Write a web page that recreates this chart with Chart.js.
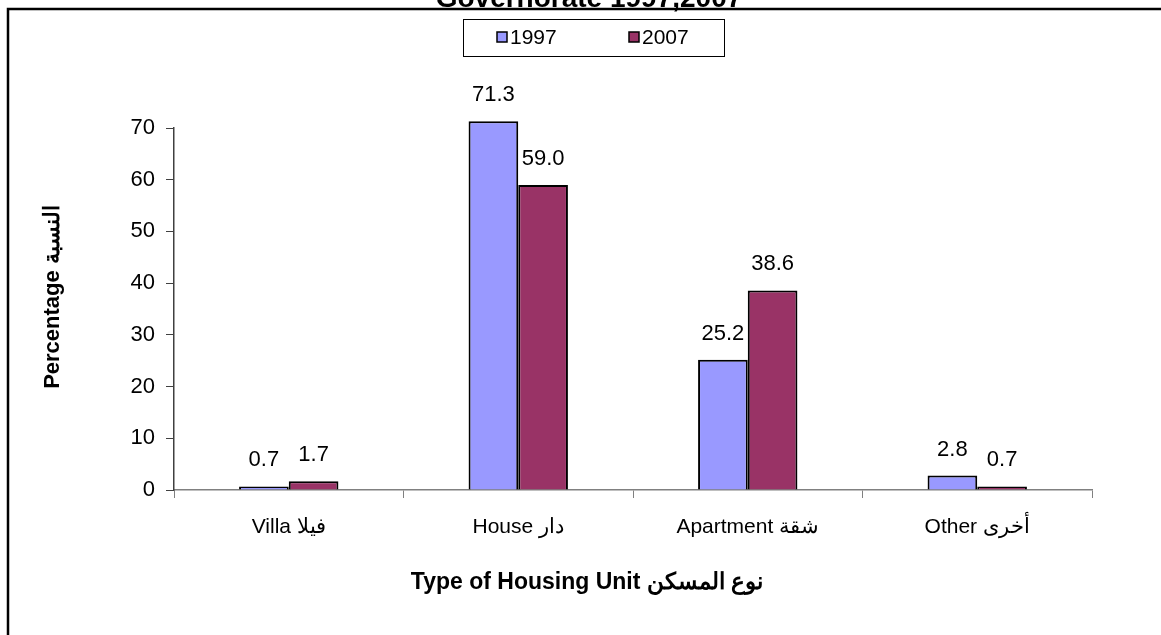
<!DOCTYPE html>
<html>
<head>
<meta charset="utf-8">
<script src="https://cdn.jsdelivr.net/npm/chart.js@4.4.1/dist/chart.umd.min.js"></script>
<style>
  html, body { margin: 0; padding: 0; background: #fff; }
  #wrap { position: relative; width: 1161px; height: 635px; overflow: hidden; }
</style>
</head>
<body>
<div id="wrap"><canvas id="c" width="1161" height="635"></canvas></div>
<script>
// ---- data ----
const categories = ['Villa فيلا', 'House دار', 'Apartment شقة', 'Other أخرى'];
const seriesNames = ['1997', '2007'];
const values1997 = [0.7, 71.3, 25.2, 2.8];
const values2007 = [1.7, 59.0, 38.6, 0.7];
const yTicks = [0, 10, 20, 30, 40, 50, 60, 70];
const titleText = 'Governorate 1997,2007';
const xTitle = 'Type of Housing Unit نوع المسكن';
const yTitle = 'Percentage النسبة';

const FONT = '"Liberation Sans", Arial, sans-serif';
const colors = ['#9999FF', '#993366'];

const framePlugin = {
  id: 'frame',
  beforeDraw(chart) {
    const ctx = chart.ctx;
    ctx.save();
    ctx.fillStyle = '#fff';
    ctx.fillRect(0, 0, chart.width, chart.height);
    ctx.strokeStyle = '#000';
    ctx.lineWidth = 2.5;
    ctx.strokeRect(8, 9, 1300, 800);
    // clipped title (only lower part visible)
    ctx.fillStyle = '#000';
    ctx.font = 'bold 28px ' + FONT;
    ctx.textAlign = 'center';
    ctx.textBaseline = 'alphabetic';
    ctx.fillText(titleText, 589, 7);
    ctx.restore();
  }
};

const axisTitlePlugin = {
  id: 'axisTitles',
  afterDraw(chart) {
    const ctx = chart.ctx;
    ctx.save();
    ctx.fillStyle = '#000';
    ctx.textAlign = 'center';
    ctx.textBaseline = 'middle';
    ctx.font = 'bold 23px ' + FONT;
    ctx.fillText(xTitle, 587, 583);
    ctx.translate(53, 297);
    ctx.rotate(-Math.PI / 2);
    ctx.font = 'bold 22px ' + FONT;
    ctx.fillText(yTitle, 0, 0);
    ctx.restore();
  }
};

const legendPlugin = {
  id: 'boxLegend',
  afterDraw(chart) {
    const ctx = chart.ctx;
    ctx.save();
    ctx.strokeStyle = '#000';
    ctx.lineWidth = 1;
    ctx.strokeRect(463.5, 19.5, 261, 37);
    const sw = [497, 629];
    chart.data.datasets.forEach((ds, i) => {
      ctx.fillStyle = ds.backgroundColor;
      ctx.fillRect(sw[i], 32, 10, 10);
      ctx.lineWidth = 1.5;
      ctx.strokeStyle = '#000';
      ctx.strokeRect(sw[i], 32, 10, 10);
      ctx.fillStyle = '#000';
      ctx.font = '21px ' + FONT;
      ctx.textAlign = 'left';
      ctx.textBaseline = 'middle';
      ctx.fillText(ds.label, sw[i] + 13, 38);
    });
    ctx.restore();
  }
};

const valueLabelPlugin = {
  id: 'valueLabels',
  afterDatasetsDraw(chart) {
    const ctx = chart.ctx;
    ctx.save();
    ctx.fillStyle = '#000';
    ctx.font = '22px ' + FONT;
    ctx.textAlign = 'center';
    ctx.textBaseline = 'middle';
    chart.data.datasets.forEach((ds, di) => {
      const meta = chart.getDatasetMeta(di);
      meta.data.forEach((bar, i) => {
        ctx.fillText(ds.data[i].toFixed(1), bar.x, bar.y - 26);
      });
    });
    ctx.restore();
  }
};

new Chart(document.getElementById('c'), {
  type: 'bar',
  data: {
    labels: categories,
    datasets: [
      { label: seriesNames[0], data: values1997, backgroundColor: colors[0], borderColor: '#000', borderWidth: 2, clip: false },
      { label: seriesNames[1], data: values2007, backgroundColor: colors[1], borderColor: '#000', borderWidth: 2, clip: false }
    ]
  },
  options: {
    responsive: false,
    animation: false,
    devicePixelRatio: 1,
    categoryPercentage: 0.433,
    barPercentage: 1,
    layout: { padding: { left: 0, right: 69, top: 128, bottom: 0 } },
    plugins: { legend: { display: false }, title: { display: false }, tooltip: { enabled: false } },
    scales: {
      x: {
        grid: { offset: true, drawOnChartArea: false, drawTicks: true, tickLength: 8, color: '#808080' },
        border: { display: true, color: '#808080', width: 1.5 },
        ticks: { color: '#000', font: { family: FONT, size: 21 }, padding: 17 },
        afterFit(scale) { scale.height = 145; }
      },
      y: {
        min: 0, max: 70,
        afterBuildTicks(scale) { scale.ticks = yTicks.map(v => ({ value: v })); },
        grid: { drawOnChartArea: false, drawTicks: true, tickLength: 8, color: '#404040' },
        border: { display: true, color: '#404040', width: 1.5 },
        ticks: { color: '#000', font: { family: FONT, size: 22 }, padding: 11 },
        afterFit(scale) { scale.width = 174; }
      }
    }
  },
  plugins: [framePlugin, valueLabelPlugin, legendPlugin, axisTitlePlugin]
});
</script>
</body>
</html>
